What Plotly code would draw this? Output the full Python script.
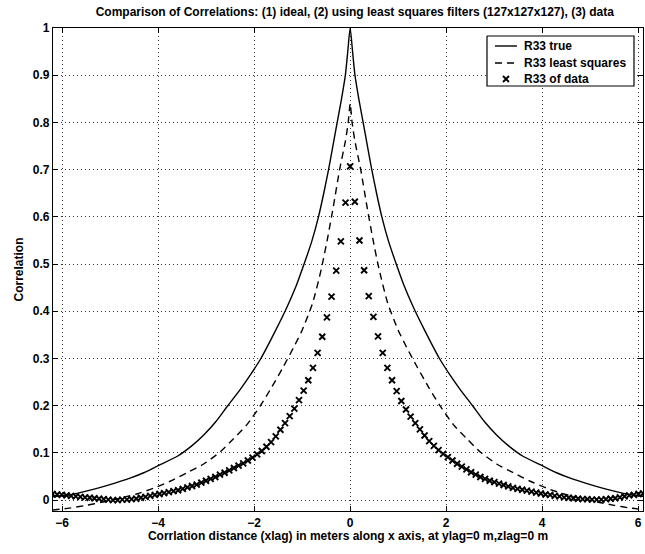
import numpy as np
import plotly.graph_objects as go

# Lag grid: 128 samples, lags -64..63 with spacing dx (metres)
dx = 6.2 / 64
lag_index = np.arange(-64, 64)
lag = lag_index * dx

# R33 estimated from the data, one value per lag (-64 .. 63)
r33_data = [
    0.013, 0.012, 0.011, 0.010, 0.009, 0.008, 0.007, 0.006,
    0.005, 0.004, 0.003, 0.002, 0.001, 0.000, 0.000, 0.001,
    0.001, 0.002, 0.003, 0.005, 0.007, 0.009, 0.011, 0.013,
    0.015, 0.017, 0.019, 0.021, 0.024, 0.027, 0.030, 0.033,
    0.037, 0.041, 0.045, 0.049, 0.054, 0.058, 0.063, 0.068,
    0.073, 0.078, 0.084, 0.090, 0.097, 0.104, 0.113, 0.123,
    0.135, 0.149, 0.163, 0.178, 0.194, 0.212, 0.232, 0.254,
    0.280, 0.312, 0.346, 0.387, 0.431, 0.486, 0.548, 0.630,
    0.707,
    0.632, 0.550, 0.487, 0.432, 0.388, 0.347, 0.312, 0.280,
    0.254, 0.231, 0.210, 0.192, 0.177, 0.163, 0.150, 0.137,
    0.125, 0.115, 0.106, 0.098, 0.091, 0.084, 0.077, 0.071,
    0.065, 0.059, 0.054, 0.049, 0.045, 0.041, 0.038, 0.035,
    0.032, 0.029, 0.026, 0.024, 0.022, 0.020, 0.018, 0.016,
    0.014, 0.012, 0.011, 0.009, 0.008, 0.006, 0.005, 0.004,
    0.003, 0.002, 0.002, 0.001, 0.001, 0.001, 0.002, 0.003,
    0.004, 0.006, 0.008, 0.010, 0.011, 0.013, 0.014,
]

# Ideal R33 (symmetric in lag): |lag| and value
true_abs_lag = [0.00, 0.05, 0.10, 0.18, 0.27, 0.36, 0.45, 0.55, 0.66, 0.80,
                0.96, 1.12, 1.31, 1.55, 1.86, 2.10, 2.30, 2.55, 2.80, 3.05,
                3.30, 3.60, 4.00, 4.30, 4.60, 4.90, 5.20, 5.50, 5.80, 6.20]
true_r33 = [1.000, 0.950, 0.900, 0.850, 0.800, 0.750, 0.700, 0.650, 0.600, 0.548,
            0.500, 0.455, 0.410, 0.360, 0.300, 0.262, 0.233, 0.200, 0.166, 0.138,
            0.115, 0.093, 0.073, 0.058, 0.046, 0.036, 0.027, 0.019, 0.012, 0.007]

# R33 from the least squares filters (symmetric in lag)
ls_abs_lag = [0.00, 0.04, 0.10, 0.22, 0.35, 0.47, 0.60, 0.78, 1.00, 1.18,
              1.39, 1.63, 1.87, 2.15, 2.43, 2.71, 3.06, 3.40, 3.75, 4.10,
              4.45, 4.80, 5.15, 5.50, 5.85, 6.20]
ls_r33 = [0.840, 0.800, 0.760, 0.700, 0.622, 0.555, 0.490, 0.418, 0.360, 0.323,
          0.283, 0.240, 0.200, 0.160, 0.130, 0.102, 0.076, 0.058, 0.040, 0.025,
          0.013, 0.004, -0.004, -0.011, -0.017, -0.021]

series_names = ["R33 true", "R33 least squares", "R33 of data"]

x_ticks = [-6, -4, -2, 0, 2, 4, 6]
y_ticks = [0, 0.1, 0.2, 0.3, 0.4, 0.5, 0.6, 0.7, 0.8, 0.9, 1]
y_tick_text = ["0", "0.1", "0.2", "0.3", "0.4", "0.5", "0.6", "0.7", "0.8", "0.9", "1"]


def mirrored(abs_lag, values):
    xs = [-v for v in abs_lag[:0:-1]] + list(abs_lag)
    ys = list(values[:0:-1]) + list(values)
    return xs, ys


tx, ty = mirrored(true_abs_lag, true_r33)
lx, ly = mirrored(ls_abs_lag, ls_r33)

FONT = "Liberation Sans, Arial, Helvetica, sans-serif"
TXT = dict(family=FONT, size=12, color="black", weight="bold")

W, H = 645, 554
L, R, T, B = 53, 2, 28, 43

SOLID = dict(color="black", width=1.4)
DASHED = dict(color="black", width=1.4, dash="7px,5px")
XMARK = dict(symbol="x-thin", size=6, color="black", line=dict(width=1.9, color="black"))

fig = go.Figure()
fig.add_trace(go.Scatter(
    x=tx, y=ty, mode="lines", name=series_names[0], showlegend=False,
    line=dict(**SOLID, shape="spline", smoothing=0.6),
))
fig.add_trace(go.Scatter(
    x=lx, y=ly, mode="lines", name=series_names[1], showlegend=False,
    line=dict(**DASHED, shape="spline", smoothing=0.6),
))
fig.add_trace(go.Scatter(
    x=lag, y=r33_data, mode="markers", name=series_names[2], showlegend=False,
    marker=XMARK,
))

# Boxed key in the upper right corner, laid out on a pixel-scaled overlay axis
box_x0, box_x1, box_y0, box_y1 = 487, 634, 36, 86
row_y = [46, 63, 79]
sample_x0, sample_x1, text_x = 495, 517, 522
fig.add_trace(go.Scatter(
    x=[box_x0, box_x1, box_x1, box_x0, box_x0],
    y=[box_y0, box_y0, box_y1, box_y1, box_y0],
    xaxis="x2", yaxis="y2", mode="lines", fill="toself", fillcolor="white",
    line=dict(color="black", width=1.2), showlegend=False, hoverinfo="skip",
))
fig.add_trace(go.Scatter(x=[sample_x0, sample_x1], y=[row_y[0]] * 2, xaxis="x2", yaxis="y2",
                         mode="lines", line=SOLID, showlegend=False, hoverinfo="skip"))
fig.add_trace(go.Scatter(x=[sample_x0, sample_x1], y=[row_y[1]] * 2, xaxis="x2", yaxis="y2",
                         mode="lines", line=DASHED, showlegend=False, hoverinfo="skip"))
fig.add_trace(go.Scatter(x=[(sample_x0 + sample_x1) / 2], y=[row_y[2]], xaxis="x2", yaxis="y2",
                         mode="markers", marker=XMARK, showlegend=False, hoverinfo="skip"))
for name, yy in zip(series_names, row_y):
    fig.add_annotation(xref="x2", yref="y2", x=text_x, y=yy, text=name,
                       showarrow=False, xanchor="left", yanchor="middle", font=TXT)

axis_common = dict(
    showline=True, linecolor="black", linewidth=1.2, mirror="ticks",
    ticks="inside", ticklen=5, tickwidth=1, tickcolor="black",
    showgrid=True, gridcolor="#333333", gridwidth=1, griddash="1px,3px",
    zeroline=False, tickfont=TXT,
)

fig.update_layout(
    width=W, height=H,
    margin=dict(l=L, r=R, t=T, b=B),
    paper_bgcolor="white", plot_bgcolor="white",
    font=TXT,
    title=dict(
        text="Comparison of Correlations: (1) ideal, (2) using least squares filters (127x127x127), (3) data",
        font=TXT, x=0.55, xanchor="center", y=1 - 12 / H, yanchor="middle",
    ),
    xaxis=dict(
        range=[-6.19, 6.1], tickvals=x_ticks,
        title=dict(text="Corrlation distance (xlag) in meters along x axis, at ylag=0 m,zlag=0 m",
                   font=TXT, standoff=3),
        **axis_common,
    ),
    yaxis=dict(
        range=[-0.023, 1.0], tickvals=y_ticks, ticktext=y_tick_text,
        title=dict(text="Correlation", font=TXT, standoff=6),
        **axis_common,
    ),
    xaxis2=dict(overlaying="x", range=[L, W - R], visible=False, fixedrange=True),
    yaxis2=dict(overlaying="y", range=[H - B, T], visible=False, fixedrange=True),
    showlegend=False,
)

fig.write_html("out.html")
